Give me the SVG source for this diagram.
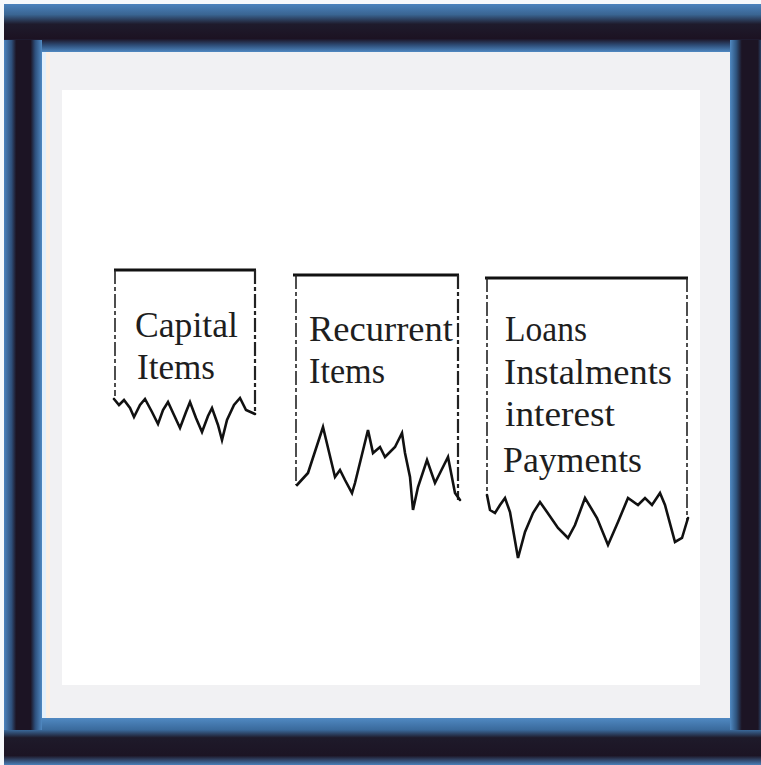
<svg xmlns="http://www.w3.org/2000/svg" width="761" height="765" viewBox="0 0 761 765">
<defs>
<linearGradient id="gTop" x1="0" y1="4" x2="0" y2="52" gradientUnits="userSpaceOnUse">
<stop offset="0" stop-color="#4b82bd"/><stop offset="0.22" stop-color="#3a6592"/><stop offset="0.42" stop-color="#1e1b2c"/><stop offset="0.72" stop-color="#1c1222"/><stop offset="0.86" stop-color="#2e4d78"/><stop offset="1" stop-color="#5089c2"/>
</linearGradient>
<linearGradient id="gBot" x1="0" y1="718" x2="0" y2="765" gradientUnits="userSpaceOnUse">
<stop offset="0" stop-color="#5089c2"/><stop offset="0.25" stop-color="#3a6a9c"/><stop offset="0.42" stop-color="#1e1a2a"/><stop offset="0.8" stop-color="#1c1424"/><stop offset="1" stop-color="#4a7fb8"/>
</linearGradient>
<linearGradient id="gLeft" x1="4" y1="0" x2="42" y2="0" gradientUnits="userSpaceOnUse">
<stop offset="0" stop-color="#4b82bd"/><stop offset="0.2" stop-color="#2e4f7a"/><stop offset="0.32" stop-color="#1c1424"/><stop offset="0.7" stop-color="#1c1424"/><stop offset="0.82" stop-color="#2d4f7c"/><stop offset="1" stop-color="#5089c2"/>
</linearGradient>
<linearGradient id="gRight" x1="730" y1="0" x2="761" y2="0" gradientUnits="userSpaceOnUse">
<stop offset="0" stop-color="#5089c2"/><stop offset="0.2" stop-color="#2f5580"/><stop offset="0.38" stop-color="#1c1424"/><stop offset="0.9" stop-color="#1c1424"/><stop offset="1" stop-color="#2a4266"/>
</linearGradient>
<style>
.lbl{font-family:"Liberation Serif","Times New Roman",serif;font-size:36px;fill:#1e1e1e}
.top{stroke:#111;stroke-width:3;fill:none}
.side{stroke:#222;stroke-width:1.6;fill:none;stroke-dasharray:14 3 4 3}
.zig{stroke:#111;stroke-width:2.6;fill:none;stroke-linejoin:miter;stroke-linecap:round}
</style>
</defs>
<rect x="0" y="0" width="761" height="765" fill="#f6f8fb"/>
<g id="frame">
<rect x="42" y="52" width="688" height="666" fill="#f1f1f3"/>
<rect x="42" y="52" width="4" height="666" fill="#e4f0fb"/>
<rect x="46" y="52" width="4" height="666" fill="#fbefe4"/>
<rect x="62" y="90" width="638" height="595" fill="#ffffff"/>
<rect x="4" y="4" width="757" height="48" fill="url(#gTop)"/>
<rect x="4" y="718" width="757" height="47" fill="url(#gBot)"/>
<rect x="4" y="40" width="38" height="690" fill="url(#gLeft)"/>
<rect x="730" y="40" width="31" height="690" fill="url(#gRight)"/>
</g>
<g id="capital-items">
<line class="top" x1="114" y1="270" x2="256" y2="270"/>
<line class="side" x1="115" y1="270" x2="115" y2="396"/>
<line class="side" x1="255" y1="270" x2="255" y2="413" style="stroke-width:2.2"/>
<polyline class="zig" points="114,399 119,405 124,400 130,408 134,417 140,405 145,399 152,412 158,424 163,410 168,402 174,415 180,428 186,412 190,402 196,418 202,432 208,416 212,408 218,425 222,440 227,420 234,405 240,398 246,410 255,414"/>
<text class="lbl" x="135" y="337" textLength="103" lengthAdjust="spacingAndGlyphs">Capital</text>
<text class="lbl" x="137" y="379" textLength="78" lengthAdjust="spacingAndGlyphs">Items</text>
</g>
<g id="recurrent-items">
<line class="top" x1="293" y1="275" x2="459" y2="275"/>
<line class="side" x1="296" y1="275" x2="296" y2="485"/>
<line class="side" x1="458" y1="275" x2="458" y2="500" style="stroke-width:2.2"/>
<polyline class="zig" points="297,485 308,473 323,427 335,477 340,470 345,480 352,493 355,483 368,430 373,453 380,447 385,457 395,447 402,433 405,453 410,477 413,510 418,487 427,460 435,483 448,457 455,493 460,500"/>
<text class="lbl" x="309" y="341" textLength="144" lengthAdjust="spacingAndGlyphs">Recurrent</text>
<text class="lbl" x="309" y="383" textLength="76" lengthAdjust="spacingAndGlyphs">Items</text>
</g>
<g id="loans">
<line class="top" x1="485" y1="278" x2="688" y2="278"/>
<line class="side" x1="487" y1="278" x2="487" y2="497"/>
<line class="side" x1="687" y1="278" x2="687" y2="520"/>
<polyline class="zig" points="487,495 490,510 495,513 500,505 505,498 510,512 518,558 525,532 533,513 540,502 547,512 558,528 568,538 575,525 585,498 597,518 608,545 618,522 628,498 638,505 645,498 652,505 660,493 665,505 675,542 682,538 688,518"/>
<text class="lbl" x="505" y="341" textLength="82" lengthAdjust="spacingAndGlyphs">Loans</text>
<text class="lbl" x="504" y="384" textLength="168" lengthAdjust="spacingAndGlyphs">Instalments</text>
<text class="lbl" x="505" y="426" textLength="110" lengthAdjust="spacingAndGlyphs">interest</text>
<text class="lbl" x="503" y="472" textLength="139" lengthAdjust="spacingAndGlyphs">Payments</text>
</g>
<g id="connectors"/>
</svg>
